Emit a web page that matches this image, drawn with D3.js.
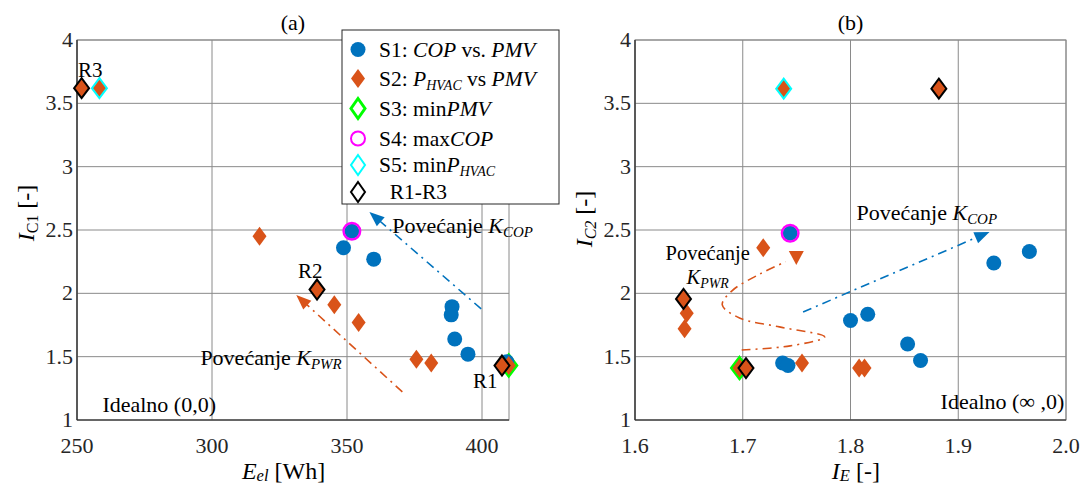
<!DOCTYPE html>
<html><head><meta charset="utf-8">
<script src="https://cdn.jsdelivr.net/npm/d3@7"></script>
<style>
body{margin:0;background:#fff}
svg text{font-family:"Liberation Serif","DejaVu Serif","Times New Roman",serif}
</style>
</head><body>
<svg id="c" width="1091" height="486" font-family="Liberation Serif, DejaVu Serif, serif"></svg>
<script>
// ---------- data ----------
const yTicks = [1, 1.5, 2, 2.5, 3, 3.5, 4];
const xTicksA = [250, 300, 350, 400];
const xTicksB = [1.6, 1.7, 1.8, 1.9, 2.0];
const xTickLabelsB = ["1.6", "1.7", "1.8", "1.9", "2.0"];

// panel (a): E_el [Wh] vs I_C1
const s1A = [[351.8,2.49],[348.7,2.36],[359.9,2.27],[388.9,1.895],[388.6,1.83],[389.9,1.64],[394.8,1.52],[409.2,1.46]];
const s2A = [[317.6,2.45],[345.3,1.91],[354.3,1.77],[375.7,1.48],[381.2,1.45],[409.9,1.43],[258.3,3.62],[338.9,2.03],[407.4,1.43],[251.7,3.62]];
const s3A = [[409.9,1.43]];
const s4A = [[351.8,2.49]];
const s5A = [[258.3,3.62]];
const rA  = [[407.4,1.43],[338.9,2.03],[251.7,3.62]];
const rNames = ["R1","R2","R3"];

// panel (b): I_E vs I_C2
const s1B = [[1.744,2.474],[1.933,2.24],[1.966,2.33],[1.800,1.785],[1.816,1.835],[1.853,1.60],[1.865,1.47],[1.737,1.45],[1.742,1.43]];
const s2B = [[1.719,2.36],[1.648,1.843],[1.646,1.72],[1.697,1.41],[1.755,1.45],[1.808,1.41],[1.813,1.41],[1.738,3.616],[1.645,1.956],[1.703,1.41],[1.882,3.616]];
const s3B = [[1.697,1.41]];
const s4B = [[1.744,2.474]];
const s5B = [[1.738,3.616]];
const rB  = [[1.703,1.41],[1.645,1.956],[1.882,3.616]];

// ---------- styles ----------
const C = {blue:"#0072BD", orange:"#D95319", green:"#00FF00", magenta:"#FF00FF", cyan:"#00FFFF", grid:"#8a8a8a", axis:"#262626"};
const FF = "Liberation Serif, DejaVu Serif, serif";
const FONT = 22, ANN = 22;

const svg = d3.select("#c");
svg.append("rect").attr("width",1091).attr("height",486).attr("fill","#fff");

const yScale = d3.scaleLinear().domain([1,4]).range([420,40]);
const xA = d3.scaleLinear().domain([250,410]).range([77,509]);
const xB = d3.scaleLinear().domain([1.6,2.0]).range([635,1066]);

function T(g){ return g.append("text").attr("font-family",FF).attr("fill","#000"); }

function diamondPath(cx, cy, hw, hh){
  return `M${cx},${cy-hh}L${cx+hw},${cy}L${cx},${cy+hh}L${cx-hw},${cy}Z`;
}

function panel(x, xTicks, xLabels){
  const g = svg.append("g");
  g.selectAll(".gx").data(xTicks).enter().append("line")
    .attr("x1",d=>x(d)).attr("x2",d=>x(d)).attr("y1",yScale(1)).attr("y2",yScale(4))
    .attr("stroke",C.grid).attr("stroke-width",1);
  g.selectAll(".gy").data(yTicks).enter().append("line")
    .attr("x1",x.range()[0]).attr("x2",x.range()[1]).attr("y1",d=>yScale(d)).attr("y2",d=>yScale(d))
    .attr("stroke",C.grid).attr("stroke-width",1);
  g.append("rect").attr("x",x.range()[0]).attr("y",yScale(4))
    .attr("width",x.range()[1]-x.range()[0]).attr("height",yScale(1)-yScale(4))
    .attr("fill","none").attr("stroke",C.grid).attr("stroke-width",1);
  g.append("line").attr("x1",x.range()[0]).attr("x2",x.range()[0]).attr("y1",yScale(1)).attr("y2",yScale(4)).attr("stroke",C.axis).attr("stroke-width",1.2);
  g.append("line").attr("x1",x.range()[0]).attr("x2",x.range()[1]).attr("y1",yScale(1)).attr("y2",yScale(1)).attr("stroke",C.axis).attr("stroke-width",1.2);
  g.selectAll(".tx").data(xTicks).enter().append("text")
    .attr("font-family",FF)
    .attr("x",d=>x(d)).attr("y",yScale(1)+33).attr("text-anchor","middle")
    .attr("font-size",FONT).attr("fill","#262626")
    .text((d,i)=>xLabels ? xLabels[i] : d);
  g.selectAll(".ty").data(yTicks).enter().append("text")
    .attr("font-family",FF)
    .attr("x",x.range()[0]-4).attr("y",d=>yScale(d)+7).attr("text-anchor","end")
    .attr("font-size",FONT).attr("fill","#262626")
    .text(d=>d);
  return g;
}

function markers(g, x, s1, s2, s3, s4, s5, r){
  g.selectAll(".s3").data(s3).enter().append("path")
    .attr("d",d=>diamondPath(x(d[0]),yScale(d[1]),8,10.5))
    .attr("fill","none").attr("stroke",C.green).attr("stroke-width",3);
  g.selectAll(".s1").data(s1).enter().append("circle")
    .attr("cx",d=>x(d[0])).attr("cy",d=>yScale(d[1])).attr("r",7.5).attr("fill",C.blue);
  g.selectAll(".s2").data(s2).enter().append("path")
    .attr("d",d=>diamondPath(x(d[0]),yScale(d[1]),7,9.5)).attr("fill",C.orange);
  g.selectAll(".s4").data(s4).enter().append("circle")
    .attr("cx",d=>x(d[0])).attr("cy",d=>yScale(d[1])).attr("r",8.3)
    .attr("fill","none").attr("stroke",C.magenta).attr("stroke-width",2.4);
  g.selectAll(".s5").data(s5).enter().append("path")
    .attr("d",d=>diamondPath(x(d[0]),yScale(d[1]),7.5,10)).attr("fill","none")
    .attr("stroke",C.cyan).attr("stroke-width",2);
  g.selectAll(".r").data(r).enter().append("path")
    .attr("d",d=>diamondPath(x(d[0]),yScale(d[1]),7.5,10)).attr("fill","none")
    .attr("stroke","#000").attr("stroke-width",2);
}

function arrowHead(g, p1, p2, color, L, W){
  const a = Math.atan2(p2[1]-p1[1], p2[0]-p1[0]);
  const bx = p2[0]-L*Math.cos(a), by = p2[1]-L*Math.sin(a);
  const nx = -Math.sin(a)*W, ny = Math.cos(a)*W;
  g.append("path").attr("d",`M${p2[0]},${p2[1]}L${bx+nx},${by+ny}L${bx-nx},${by-ny}Z`).attr("fill",color);
}
function arrow(g, x, from, to, color){
  const p1=[x(from[0]),yScale(from[1])], p2=[x(to[0]),yScale(to[1])];
  const a = Math.atan2(p2[1]-p1[1], p2[0]-p1[0]);
  g.append("line").attr("x1",p1[0]).attr("y1",p1[1])
    .attr("x2",p2[0]-10*Math.cos(a)).attr("y2",p2[1]-10*Math.sin(a))
    .attr("stroke",color).attr("stroke-width",1.6).attr("stroke-dasharray","9,5,2,5");
  arrowHead(g,p1,p2,color,15,6);
}

function kText(g, px, py, anchor, base, sub, size){
  const t = T(g).attr("x",px).attr("y",py).attr("font-size",size).attr("text-anchor",anchor);
  if(base) t.append("tspan").text(base);
  t.append("tspan").attr("font-style","italic").text("K");
  t.append("tspan").attr("font-style","italic").attr("font-size",size*0.68).attr("dy",4).text(sub);
  return t;
}

// ---------- panel (a) ----------
const gA = panel(xA, xTicksA, null);
arrow(gA, xA, [399.7,1.877], [358.3,2.642], C.blue);
arrow(gA, xA, [370.5,1.222], [331.2,1.987], C.orange);
markers(gA, xA, s1A, s2A, s3A, s4A, s5A, rA);

const rLabelPos = [[401.2,1.31],[336.4,2.18],[254.9,3.765]];
gA.selectAll(".rl").data(rLabelPos).enter().append("text").attr("font-family",FF)
  .attr("x",d=>xA(d[0])).attr("y",d=>yScale(d[1])+7).attr("text-anchor","middle")
  .attr("font-size",21).text((d,i)=>rNames[i]);

kText(gA, xA(366.8), yScale(2.532)+7, "start", "Povećanje ", "COP", ANN);
kText(gA, xA(295.7), yScale(1.49)+7, "start", "Povećanje ", "PWR", ANN);
T(gA).attr("x",xA(259.4)).attr("y",yScale(1.12)+7).attr("font-size",ANN).text("Idealno (0,0)");
T(gA).attr("x",xA(330)).attr("y",30).attr("text-anchor","middle").attr("font-size",22).text("(a)");

const xtA = T(gA).attr("x",xA(326.5)).attr("y",479).attr("text-anchor","middle").attr("font-size",24);
xtA.append("tspan").attr("font-style","italic").text("E");
xtA.append("tspan").attr("font-style","italic").attr("font-size",16.5).attr("dy",2).text("el");
xtA.append("tspan").attr("dy",-2).text(" [Wh]");
const ytA = T(gA).attr("transform","translate(34,213) rotate(-90)").attr("text-anchor","middle").attr("font-size",24);
ytA.append("tspan").attr("font-style","italic").text("I");
ytA.append("tspan").attr("font-size",16).attr("dy",4).text("C1");
ytA.append("tspan").attr("dy",-4).text(" [-]");

// ---------- panel (b) ----------
const gB = panel(xB, xTicksB, xTickLabelsB);
arrow(gB, xB, [1.756,1.853], [1.929,2.485], C.blue);
const curveB = [[1.699,1.553],[1.744,1.585],[1.776,1.656],[1.734,1.735],[1.697,1.806],[1.681,1.908],[1.690,2.02],[1.716,2.153],[1.740,2.25]];
const lineGen = d3.line().x(d=>xB(d[0])).y(d=>yScale(d[1])).curve(d3.curveCatmullRom.alpha(0.5));
gB.append("path").attr("d",lineGen(curveB)).attr("fill","none").attr("stroke",C.orange)
  .attr("stroke-width",1.6).attr("stroke-dasharray","9,5,2,5");
const headB = [1.7497, 2.279];
{
  const cx = xB(headB[0]), cy = yScale(headB[1]);
  gB.append("path").attr("d",`M${cx-7.5},${cy-7}L${cx+7.5},${cy-7}L${cx},${cy+7}Z`).attr("fill",C.orange);
}
markers(gB, xB, s1B, s2B, s3B, s4B, s5B, rB);

kText(gB, xB(1.8056), yScale(2.635)+7, "start", "Povećanje ", "COP", ANN);
T(gB).attr("x",xB(1.6675)).attr("y",260).attr("text-anchor","middle").attr("font-size",20.5).text("Povećanje");
kText(gB, xB(1.6675), 284, "middle", "", "PWR", 20.5);
T(gB).attr("x",xB(1.9985)).attr("y",yScale(1.143)+7).attr("text-anchor","end").attr("font-size",ANN).text("Idealno (∞ ,0)");
T(gB).attr("x",xB(1.8)).attr("y",30).attr("text-anchor","middle").attr("font-size",22).text("(b)");

const xtB = T(gB).attr("x",xB(1.805)).attr("y",479).attr("text-anchor","middle").attr("font-size",24);
xtB.append("tspan").attr("font-style","italic").text("I");
xtB.append("tspan").attr("font-style","italic").attr("font-size",16.5).attr("dy",2).text("E");
xtB.append("tspan").attr("dy",-2).text(" [-]");
const ytB = T(gB).attr("transform","translate(592,219) rotate(-90)").attr("text-anchor","middle").attr("font-size",24);
ytB.append("tspan").attr("font-style","italic").text("I");
ytB.append("tspan").attr("font-style","italic").attr("font-size",16).attr("dy",4).text("C2");
ytB.append("tspan").attr("dy",-4).text(" [-]");

// ---------- legend ----------
const legendItems = [
  {key:"S1", parts:[["S1: ",0],["COP",1],[" vs. ",0],["PMV",1]]},
  {key:"S2", parts:[["S2: ",0],["P",1],["HVAC",2],[" vs ",0],["PMV",1]]},
  {key:"S3", parts:[["S3: min",0],["PMV",1]]},
  {key:"S4", parts:[["S4: max",0],["COP",1]]},
  {key:"S5", parts:[["S5: min",0],["P",1],["HVAC",2]]},
  {key:"R",  parts:[["\u2002R1-R3",0]]}
];
const legRowY = [49.5, 78.5, 108.5, 138.5, 165, 192];
const lg = svg.append("g");
lg.append("rect").attr("x",342).attr("y",30).attr("width",217).attr("height",174)
  .attr("fill","#fff").attr("stroke","#262626").attr("stroke-width",1);
legendItems.forEach((it,i)=>{
  const cy = legRowY[i], cx = 358;
  if(it.key==="S1") lg.append("circle").attr("cx",cx).attr("cy",cy).attr("r",7.5).attr("fill",C.blue);
  if(it.key==="S2") lg.append("path").attr("d",diamondPath(cx,cy,7,9.5)).attr("fill",C.orange);
  if(it.key==="S3") lg.append("path").attr("d",diamondPath(cx,cy,7,10)).attr("fill","none").attr("stroke",C.green).attr("stroke-width",3);
  if(it.key==="S4") lg.append("circle").attr("cx",cx).attr("cy",cy).attr("r",7).attr("fill","none").attr("stroke",C.magenta).attr("stroke-width",2);
  if(it.key==="S5") lg.append("path").attr("d",diamondPath(cx,cy,7,10)).attr("fill","none").attr("stroke",C.cyan).attr("stroke-width",2);
  if(it.key==="R")  lg.append("path").attr("d",diamondPath(cx,cy,7,10)).attr("fill","none").attr("stroke","#000").attr("stroke-width",2);
  const t = T(lg).attr("x",379).attr("y",cy+7).attr("font-size",21.5);
  let sub=false;
  it.parts.forEach(p=>{
    const ts = t.append("tspan").text(p[0]);
    if(p[1]>=1) ts.attr("font-style","italic");
    if(p[1]===2){ ts.attr("font-size",14).attr("dy",4); sub=true; }
    else if(sub){ ts.attr("dy",-4); sub=false; }
  });
});
</script>
</body></html>
